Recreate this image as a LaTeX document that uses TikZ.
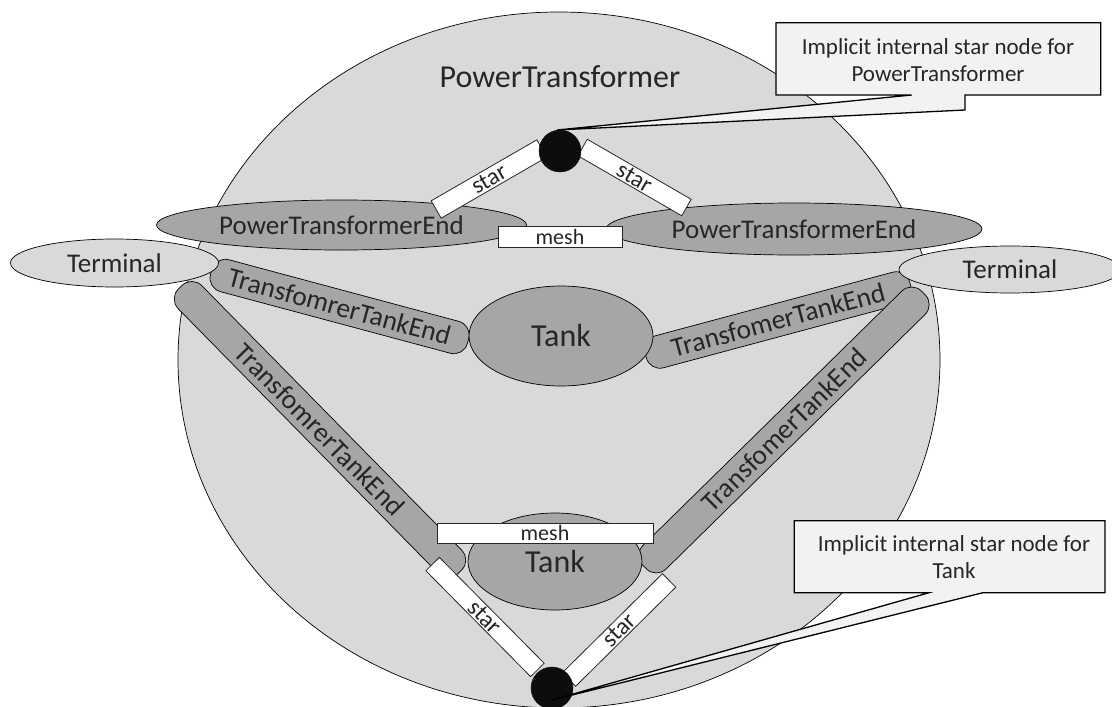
\documentclass[tikz,border=0pt]{standalone}
\usepackage{fontspec}
\setmainfont{Carlito}
\usetikzlibrary{shapes.geometric}
\definecolor{bg}{HTML}{D9D9D9}
\definecolor{dk}{HTML}{A6A6A6}
\definecolor{co}{HTML}{F2F2F2}
\definecolor{tx}{HTML}{262626}
\definecolor{dotc}{HTML}{0D0D0D}
\begin{document}
\begin{tikzpicture}[x=1pt,y=-1pt,
  every node/.style={inner sep=0pt,outer sep=0pt,text=tx},
  shp/.style={draw=black,line width=0.7pt},
  ellnode/.style={shp,ellipse},
  bar/.style={shp,rectangle,rounded corners=14pt,fill=dk,minimum height=33pt,font=\fontsize{27.5}{30}\selectfont},
  wrect/.style={rectangle,draw=black!85,fill=white,line width=0.8pt},
  blob/.style={circle,fill=dotc,draw=dotc,minimum size=42pt},
  callout/.style={draw=black,fill=co,line width=1.3pt,line join=miter},
  big/.style={font=\fontsize{32}{36}\selectfont},
  mid/.style={font=\fontsize{27}{30}\selectfont},
  small/.style={font=\fontsize{22}{26}\selectfont},
  starf/.style={font=\fontsize{24}{26}\selectfont},
  note/.style={font=\fontsize{23}{27}\selectfont,align=center}]
\useasboundingbox (0,0) rectangle (1112,707);
% big PowerTransformer ellipse
\node[ellnode,fill=bg,minimum width=762pt,minimum height=696pt] (pt) at (559,360) {};
\node[big] (ptl) at (560,77) {PowerTransformer};
% transformer tank ends
\node[bar,minimum width=266pt,rotate=-15] (te1) at (339.6,306.5) {TransfomrerTankEnd};
\node[bar,minimum width=399pt,rotate=-45.5] (te3) at (320,429.5) {TransfomrerTankEnd};
\node[bar,minimum width=274pt,rotate=15] (te2) at (778,320) {TransfomerTankEnd};
\node[bar,minimum width=391pt,rotate=44.5] (te4) at (784,430) {TransfomerTankEnd};
% terminals
\node[ellnode,fill=bg,minimum width=208pt,minimum height=48pt,mid] (tl) at (114.5,263) {Terminal};
\node[ellnode,fill=bg,minimum width=222pt,minimum height=47pt,mid] (tr) at (1010,269.5) {Terminal};
% tanks
\node[ellnode,fill=dk,minimum width=184pt,minimum height=100pt,big] (tank1) at (561,336) {Tank};
\node[ellnode,fill=dk,minimum width=174pt,minimum height=97pt,big] (tank2) at (555,561.5) {Tank};
% power transformer ends
\node[ellnode,fill=dk,minimum width=370pt,minimum height=50pt,mid] (pte1) at (341.5,225) {PowerTransformerEnd};
\node[ellnode,fill=dk,minimum width=376pt,minimum height=52pt,mid] (pte2) at (794,229) {PowerTransformerEnd};
% star and mesh boxes
\node[wrect,minimum width=122pt,minimum height=20pt,rotate=30,starf] (s1) at (489,179) {star};
\node[wrect,minimum width=120pt,minimum height=19pt,rotate=-30,starf] (s2) at (634.5,177.5) {star};
\node[wrect,minimum width=149pt,minimum height=19pt,rotate=-45.3,starf] (s3) at (485,617) {star};
\node[wrect,minimum width=141pt,minimum height=19pt,rotate=44.7,starf] (s4) at (619,630) {star};
\node[wrect,minimum width=124pt,minimum height=21pt,small] (m1) at (560,236.5) {mesh};
\node[wrect,minimum width=216pt,minimum height=20pt,small] (m2) at (545,533) {mesh};
% implicit star nodes
\node[blob] (d1) at (560,151) {};
\node[blob] (d2) at (552,688) {};
% callouts
\draw[callout] (776,22.7) -- (1100.7,22.7) -- (1100.7,95) -- (965,95) -- (965,110)
  -- ([xshift=-3pt]d1.north) -- (911.7,95) -- (776,95) -- cycle;
\node[note] (c1) at (938,60) {Implicit internal star node for\\PowerTransformer};
\draw[callout] (794.3,520.7) -- (1105,520.7) -- (1105,592.7) -- (983,592.7)
  -- ([yshift=-12pt]d2.center) -- (929,592.7) -- (794.3,592.7) -- cycle;
\node[note] (c2) at (954,557.5) {Implicit internal star node for\\Tank};
\end{tikzpicture}
\end{document}
